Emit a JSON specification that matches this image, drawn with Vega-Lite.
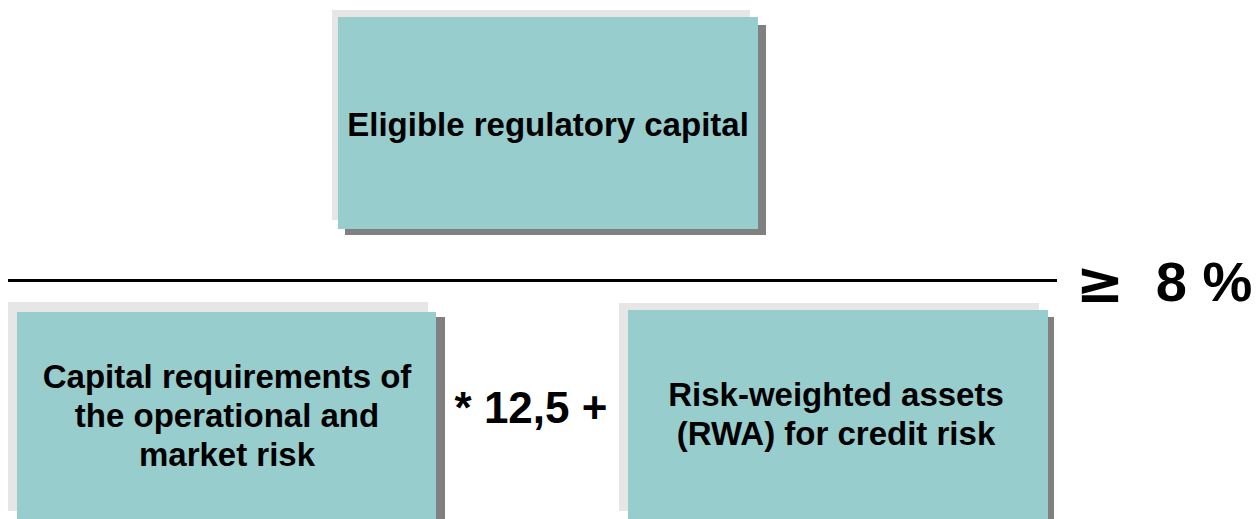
{
  "$schema": "https://vega.github.io/schema/vega-lite/v6.json",
  "width": 1257,
  "height": 519,
  "autosize": {"type": "fit", "contains": "padding"},
  "padding": 0,
  "background": "white",
  "config": {"view": {"stroke": null}, "axis": {"disable": true}},
  "datasets": {
    "rects": [
      {"box": "top", "kind": "light", "x": 332, "x2": 750, "y": 10, "y2": 220},
      {"box": "top", "kind": "shadow", "x": 345, "x2": 766, "y": 25, "y2": 235},
      {"box": "top", "kind": "fill", "x": 338, "x2": 758, "y": 17, "y2": 229},
      {"box": "left", "kind": "light", "x": 8, "x2": 428, "y": 302, "y2": 511},
      {"box": "left", "kind": "shadow", "x": 25, "x2": 445, "y": 317, "y2": 519},
      {"box": "left", "kind": "fill", "x": 17, "x2": 436, "y": 312, "y2": 519},
      {"box": "right", "kind": "light", "x": 619, "x2": 1039, "y": 303, "y2": 511},
      {"box": "right", "kind": "shadow", "x": 636, "x2": 1054, "y": 317, "y2": 519},
      {"box": "right", "kind": "fill", "x": 628, "x2": 1048, "y": 310, "y2": 519}
    ],
    "lines": [{"x": 8, "x2": 1057, "y": 280.5}],
    "labels": [
      {"role": "box", "label": "Eligible regulatory capital", "cx": 548, "cy": 126},
      {"role": "box", "label": "Capital requirements of\nthe operational and\nmarket risk", "cx": 227, "cy": 378},
      {"role": "box", "label": "Risk-weighted assets\n(RWA) for credit risk", "cx": 836, "cy": 396},
      {"role": "op", "label": "* 12,5 +", "cx": 531, "cy": 410},
      {"role": "ge", "label": "≥", "cx": 1100, "cy": 285},
      {"role": "pct", "label": "8 %", "cx": 1204, "cy": 284}
    ]
  },
  "layer": [
    {
      "data": {"name": "rects"},
      "mark": {"type": "rect"},
      "encoding": {
        "x": {"field": "x", "type": "quantitative", "scale": {"domain": [0, 1257], "nice": false, "zero": false}},
        "x2": {"field": "x2"},
        "y": {"field": "y", "type": "quantitative", "scale": {"domain": [0, 519], "nice": false, "zero": false, "reverse": true}},
        "y2": {"field": "y2"},
        "color": {"field": "kind", "type": "nominal", "legend": null,
          "scale": {"domain": ["light", "shadow", "fill"], "range": ["#e6e6e6", "#808080", "#98cdcd"]}}
      }
    },
    {
      "data": {"name": "lines"},
      "mark": {"type": "rule", "color": "black", "strokeWidth": 3},
      "encoding": {
        "x": {"field": "x", "type": "quantitative"},
        "x2": {"field": "x2"},
        "y": {"field": "y", "type": "quantitative"}
      }
    },
    {
      "data": {"name": "labels"},
      "transform": [{"filter": "datum.role === 'box'"}],
      "mark": {"type": "text", "font": "Liberation Sans", "fontWeight": "bold", "fontSize": 33, "lineBreak": "\n", "lineHeight": 39, "align": "center", "baseline": "middle", "color": "black"},
      "encoding": {
        "x": {"field": "cx", "type": "quantitative"},
        "y": {"field": "cy", "type": "quantitative"},
        "text": {"field": "label", "type": "nominal"}
      }
    },
    {
      "data": {"name": "labels"},
      "transform": [{"filter": "datum.role === 'op'"}],
      "mark": {"type": "text", "font": "Liberation Sans", "fontWeight": "bold", "fontSize": 44, "align": "center", "baseline": "middle", "color": "black"},
      "encoding": {
        "x": {"field": "cx", "type": "quantitative"},
        "y": {"field": "cy", "type": "quantitative"},
        "text": {"field": "label", "type": "nominal"}
      }
    },
    {
      "data": {"name": "labels"},
      "transform": [{"filter": "datum.role === 'ge'"}],
      "mark": {"type": "text", "font": "DejaVu Sans", "fontWeight": "bold", "fontSize": 58, "align": "center", "baseline": "middle", "color": "black"},
      "encoding": {
        "x": {"field": "cx", "type": "quantitative"},
        "y": {"field": "cy", "type": "quantitative"},
        "text": {"field": "label", "type": "nominal"}
      }
    },
    {
      "data": {"name": "labels"},
      "transform": [{"filter": "datum.role === 'pct'"}],
      "mark": {"type": "text", "font": "Liberation Sans", "fontWeight": "bold", "fontSize": 56, "align": "center", "baseline": "middle", "color": "black"},
      "encoding": {
        "x": {"field": "cx", "type": "quantitative"},
        "y": {"field": "cy", "type": "quantitative"},
        "text": {"field": "label", "type": "nominal"}
      }
    }
  ]
}
